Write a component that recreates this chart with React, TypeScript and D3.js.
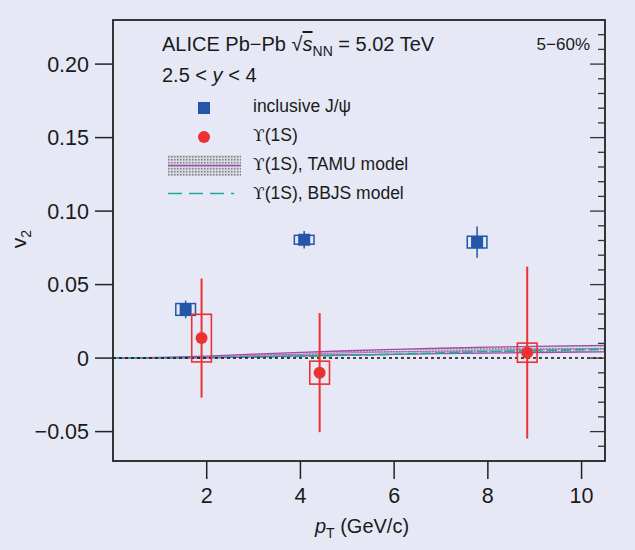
import React from "react";
import * as d3 from "d3";

// ---------- data ----------
const xDomain = [0, 10.5];
const yDomain = [-0.07, 0.23];
const xTicks = [2, 4, 6, 8, 10];
const yTicks = [-0.05, 0, 0.05, 0.1, 0.15, 0.2];
const yTickLabels = ["\u22120.05", "0", "0.05", "0.10", "0.15", "0.20"];

const jpsiPt = [1.55, 4.08, 7.77];
const jpsiV2 = [0.0331, 0.0805, 0.0789];
const jpsiStat = [0.006, 0.006, 0.0107];
const jpsiSys = [0.004, 0.003, 0.004];
const jpsiSysPt = [0.21, 0.21, 0.21];

const upsPt = [1.89, 4.41, 8.84];
const upsV2 = [0.0136, -0.0099, 0.0037];
const upsStat = [0.0405, 0.0405, 0.0585];
const upsSys = [0.0162, 0.0078, 0.0065];
const upsSysPt = [0.21, 0.21, 0.21];

const tamuPt = [0, 1, 2, 3, 4, 5, 6, 7, 8, 9, 10.5];
const tamuLow = [0, 0, 0.0002, 0.0008, 0.0015, 0.0021, 0.0026, 0.003, 0.0034, 0.0038, 0.0042];
const tamuHigh = [0, 0.0004, 0.0014, 0.0027, 0.0039, 0.005, 0.0059, 0.0067, 0.0074, 0.008, 0.0086];

const bbjsPt = [0, 2, 4, 6, 8, 10.5];
const bbjsV2 = [0, 0.0003, 0.0012, 0.0026, 0.0045, 0.006];

const legendLabels = ["inclusive J/\u03c8", "\u03d2(1S)", "\u03d2(1S), TAMU model", "\u03d2(1S), BBJS model"];

// ---------- layout ----------
const W = 635, H = 550;
const L = 113, R = 605, T = 20, B = 461;
const BG = "#e6e9f5";
const FONT = "'Liberation Sans', Arial, sans-serif";
const RED = "#ec3131";
const BLUE = "#2356a8";
const PURPLE = "#a24aaa";
const TEAL = "#1ea8a0";

function Label({ text, x, y }: { text: string; x: number; y: number }) {
  // render Upsilon glyph with a serif font for the hooked shape
  if (text.startsWith("\u03d2")) {
    return (
      <text x={x} y={y} fontSize={17.5} fill="#1a1a1a">
        <tspan fontFamily="'DejaVu Serif', serif" fontSize={17}>{"\u03d2"}</tspan>
        {text.slice(1)}
      </text>
    );
  }
  return (
    <text x={x} y={y} fontSize={17.5} fill="#1a1a1a">
      {text}
    </text>
  );
}

export default function App() {
  const x = d3.scaleLinear().domain(xDomain).range([L, R]);
  const y = d3.scaleLinear().domain(yDomain).range([B, T]);
  const minorY = d3.range(-0.07, 0.2301, 0.01).map((v) => Math.round(v * 100) / 100);

  const tamuArea = d3
    .area<number>()
    .x((_, i) => x(tamuPt[i]))
    .y0((_, i) => y(tamuLow[i]))
    .y1((_, i) => y(tamuHigh[i]));
  const tamuLine = d3
    .line<number>()
    .x((_, i) => x(tamuPt[i]))
    .y((_, i) => y((tamuLow[i] + tamuHigh[i]) / 2));
  const tamuLo = d3.line<number>().x((_, i) => x(tamuPt[i])).y((_, i) => y(tamuLow[i]));
  const tamuHi = d3.line<number>().x((_, i) => x(tamuPt[i])).y((_, i) => y(tamuHigh[i]));
  const bbjsLine = d3
    .line<number>()
    .x((_, i) => x(bbjsPt[i]))
    .y((_, i) => y(bbjsV2[i]));

  const sq = 12;
  return (
    <div style={{ position: "absolute", left: 0, top: 0, width: W, height: H }}>
      <svg width={W} height={H} style={{ display: "block", background: BG }} fontFamily={FONT}>
        <defs>
          <pattern id="dots" width="3" height="3" patternUnits="userSpaceOnUse">
            <rect width="3" height="3" fill="#d4d4dc" />
            <rect width="1.5" height="1.5" fill="#6d6d72" />
          </pattern>
          <clipPath id="plotclip">
            <rect x={L} y={T} width={R - L} height={B - T} />
          </clipPath>
        </defs>
        <rect x={0} y={0} width={W} height={H} fill={BG} />

        {/* models */}
        <g clipPath="url(#plotclip)">
          <path d={tamuArea(tamuPt) || ""} fill="url(#dots)" opacity={0.8} />
          <path d={tamuLo(tamuPt) || ""} fill="none" stroke={PURPLE} strokeWidth={1.3} />
          <path d={tamuHi(tamuPt) || ""} fill="none" stroke={PURPLE} strokeWidth={1.3} />
          <path d={tamuLine(tamuPt) || ""} fill="none" stroke={PURPLE} strokeWidth={1} opacity={0.6} />
          <path d={bbjsLine(bbjsPt) || ""} fill="none" stroke={TEAL} strokeWidth={1.6} strokeDasharray="10,4" />
          <line x1={L} x2={R} y1={y(0)} y2={y(0)} stroke="#111" strokeWidth={1.5} strokeDasharray="3,3" />
        </g>

        {/* J/psi */}
        {jpsiPt.map((p, i) => (
          <g key={"j" + i}>
            <line x1={x(p)} x2={x(p)} y1={y(jpsiV2[i] - jpsiStat[i])} y2={y(jpsiV2[i] + jpsiStat[i])} stroke={BLUE} strokeWidth={1.5} />
            <rect
              x={x(p - jpsiSysPt[i])}
              y={y(jpsiV2[i] + jpsiSys[i])}
              width={x(p + jpsiSysPt[i]) - x(p - jpsiSysPt[i])}
              height={y(jpsiV2[i] - jpsiSys[i]) - y(jpsiV2[i] + jpsiSys[i])}
              fill="none"
              stroke={BLUE}
              strokeWidth={1.5}
            />
            <rect x={x(p) - sq / 2} y={y(jpsiV2[i]) - sq / 2} width={sq} height={sq} fill={BLUE} />
          </g>
        ))}

        {/* Upsilon */}
        {upsPt.map((p, i) => (
          <g key={"u" + i}>
            <line x1={x(p)} x2={x(p)} y1={y(upsV2[i] - upsStat[i])} y2={y(upsV2[i] + upsStat[i])} stroke={RED} strokeWidth={2} />
            <rect
              x={x(p - upsSysPt[i])}
              y={y(upsV2[i] + upsSys[i])}
              width={x(p + upsSysPt[i]) - x(p - upsSysPt[i])}
              height={y(upsV2[i] - upsSys[i]) - y(upsV2[i] + upsSys[i])}
              fill="none"
              stroke={RED}
              strokeWidth={1.6}
            />
            <circle cx={x(p)} cy={y(upsV2[i])} r={6} fill={RED} />
          </g>
        ))}

        {/* frame */}
        <rect x={L} y={T} width={R - L} height={B - T} fill="none" stroke="#222" strokeWidth={1.8} />

        {/* left axis ticks (outward) */}
        {yTicks.map((v, i) => (
          <g key={"yt" + i}>
            <line x1={L - 18} x2={L} y1={y(v)} y2={y(v)} stroke="#222" strokeWidth={1.5} />
            <text x={L - 24} y={y(v)} dy="0.36em" textAnchor="end" fontSize={21.5} fill="#1a1a1a">
              {yTickLabels[i]}
            </text>
          </g>
        ))}
        {/* right axis ticks (inward) */}
        {minorY.map((v, i) => {
          const major = Math.abs(Math.round(v * 100) % 5) === 0;
          return (
            <line key={"ry" + i} x1={R - (major ? 15 : 7)} x2={R} y1={y(v)} y2={y(v)} stroke="#333" strokeWidth={1.3} />
          );
        })}
        {/* bottom axis ticks (outward) */}
        {xTicks.map((v) => (
          <g key={"xt" + v}>
            <line x1={x(v)} x2={x(v)} y1={B} y2={B + 18} stroke="#222" strokeWidth={1.5} />
            <text x={x(v)} y={503} textAnchor="middle" fontSize={21.5} fill="#1a1a1a">
              {v}
            </text>
          </g>
        ))}

        {/* axis titles */}
        <text x={362} y={533} textAnchor="middle" fontSize={20} fill="#1a1a1a">
          <tspan fontStyle="italic">p</tspan>
          <tspan fontSize={14} dy={5}>T</tspan>
          <tspan dy={-5}> (GeV/c)</tspan>
        </text>
        <text transform="translate(26,239) rotate(-90)" textAnchor="middle" fontSize={21} fill="#1a1a1a">
          v<tspan fontSize={14} dy={5}>2</tspan>
        </text>

        {/* header text */}
        <text x={162} y={51} fontSize={20} fill="#1a1a1a">
          ALICE Pb{"\u2212"}Pb {"\u221a"}
          <tspan textDecoration="overline" fontStyle="italic">s</tspan>
          <tspan fontSize={14} dy={5}>NN</tspan>
          <tspan dy={-5}> = 5.02 TeV</tspan>
        </text>
        <text x={162} y={82} fontSize={20} fill="#1a1a1a">
          2.5 &lt; <tspan fontStyle="italic">y</tspan> &lt; 4
        </text>
        <text x={590} y={50} textAnchor="end" fontSize={17} fill="#1a1a1a">
          5{"\u2212"}60%
        </text>

        {/* legend */}
        <rect x={204 - 6} y={108 - 6} width={12} height={12} fill={BLUE} />
        <Label text={legendLabels[0]} x={253} y={112} />
        <circle cx={204} cy={137} r={6} fill={RED} />
        <Label text={legendLabels[1]} x={253} y={141} />
        <rect x={168} y={155} width={73} height={21} fill="url(#dots)" opacity={0.85} />
        <line x1={168} x2={241} y1={165.5} y2={165.5} stroke={PURPLE} strokeWidth={1.5} />
        <Label text={legendLabels[2]} x={253} y={170} />
        <line x1={168} x2={241} y1={193.5} y2={193.5} stroke={TEAL} strokeWidth={1.5} strokeDasharray="14,7,14,7,14,7,3" />
        <Label text={legendLabels[3]} x={253} y={199} />
      </svg>
    </div>
  );
}
